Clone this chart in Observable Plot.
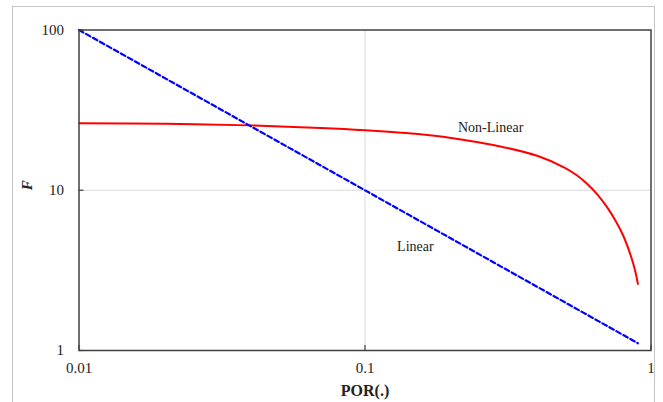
<!DOCTYPE html>
<html>
<head>
<meta charset="utf-8">
<script src="https://cdn.jsdelivr.net/npm/d3@7"></script>
<script src="https://cdn.jsdelivr.net/npm/@observablehq/plot@0.6"></script>
<style>
  html, body { margin: 0; padding: 0; background: #fff; overflow: hidden; }
  #wrap { position: relative; width: 663px; height: 402px; }
  #border { position: absolute; left: 12px; top: 6px; width: 643px; height: 420px; border: 1.5px solid #c4c4c4; box-sizing: border-box; }
  #chart { position: absolute; left: 0; top: 0; }
</style>
</head>
<body>
<div id="wrap"><div id="border"></div><div id="chart"></div></div>
<script>
// Linear series: F = 1/POR (straight line on log-log)
const linearPOR = [0.01, 0.9];
const linearF = [100, 1.11];

// Non-Linear series
const nonlinPOR = [0.01, 0.02, 0.04, 0.07, 0.1, 0.15, 0.2, 0.3, 0.4, 0.5, 0.55, 0.6, 0.65, 0.7, 0.75, 0.8, 0.85, 0.88, 0.9];
const nonlinF   = [26.2, 26.0, 25.4, 24.5, 23.7, 22.5, 21.2, 18.7, 16.4, 13.8, 12.4, 10.9, 9.4, 7.9, 6.5, 5.2, 3.9, 3.15, 2.6];

// Axis ticks
const xTicks = [0.01, 0.1, 1];
const yTicks = [1, 10, 100];
const xGrid = [0.1];
const yGrid = [10];

// In-plot labels
const labelText = ["Non-Linear", "Linear"];
const labelPOR = [0.275, 0.15];
const labelF = [24.6, 4.45];

const linear = linearPOR.map((p, i) => ({POR: p, F: linearF[i]}));
const nonlin = nonlinPOR.map((p, i) => ({POR: p, F: nonlinF[i]}));
const labels = labelText.map((t, i) => ({text: t, POR: labelPOR[i], F: labelF[i]}));

const serif = "'Liberation Serif', 'Times New Roman', serif";

const chart = Plot.plot({
  width: 663,
  height: 402,
  marginLeft: 78.5,
  marginRight: 12.5,
  marginTop: 29.5,
  marginBottom: 52,
  style: {fontFamily: serif, fontSize: "15px", color: "#222", background: "transparent"},
  x: {type: "log", domain: [0.01, 1]},
  y: {type: "log", domain: [1, 100]},
  marks: [
    Plot.gridX(xGrid, {stroke: "#d9d9d9", strokeOpacity: 1, strokeWidth: 1}),
    Plot.gridY(yGrid, {stroke: "#d9d9d9", strokeOpacity: 1, strokeWidth: 1}),
    Plot.axisX(xTicks, {tickSize: 0, tickPadding: 12, tickFormat: d => String(d), label: null, fontSize: 15}),
    Plot.axisY(yTicks, {tickSize: 0, tickPadding: 15, tickFormat: d => String(d), label: null, fontSize: 15}),
    Plot.axisX(xTicks, {tickSize: 5, dy: -5, text: null, label: null, stroke: "#404040", strokeWidth: 1.2}),
    Plot.axisY(yTicks, {tickSize: 5, dx: 5, text: null, label: null, stroke: "#404040", strokeWidth: 1.2}),
    Plot.line(nonlin, {x: "POR", y: "F", stroke: "#ff0000", strokeWidth: 2, curve: "catmull-rom"}),
    Plot.line(linear, {x: "POR", y: "F", stroke: "#0000ff", strokeWidth: 2.2, strokeDasharray: "5,3"}),
    Plot.text(labels, {x: "POR", y: "F", text: "text", fontSize: 14, fill: "#222"}),
    Plot.text(["POR(.)"], {frameAnchor: "bottom", lineAnchor: "middle", dy: 40, fontWeight: "bold", fontSize: 16, fill: "#222"}),
    Plot.text(["F"], {frameAnchor: "left", dx: -52, rotate: -90, fontWeight: "bold", fontStyle: "italic", fontSize: 15, fill: "#222"}),
    Plot.frame({stroke: "#404040", strokeWidth: 1.5})
  ]
});
document.getElementById("chart").appendChild(chart);
</script>
</body>
</html>
